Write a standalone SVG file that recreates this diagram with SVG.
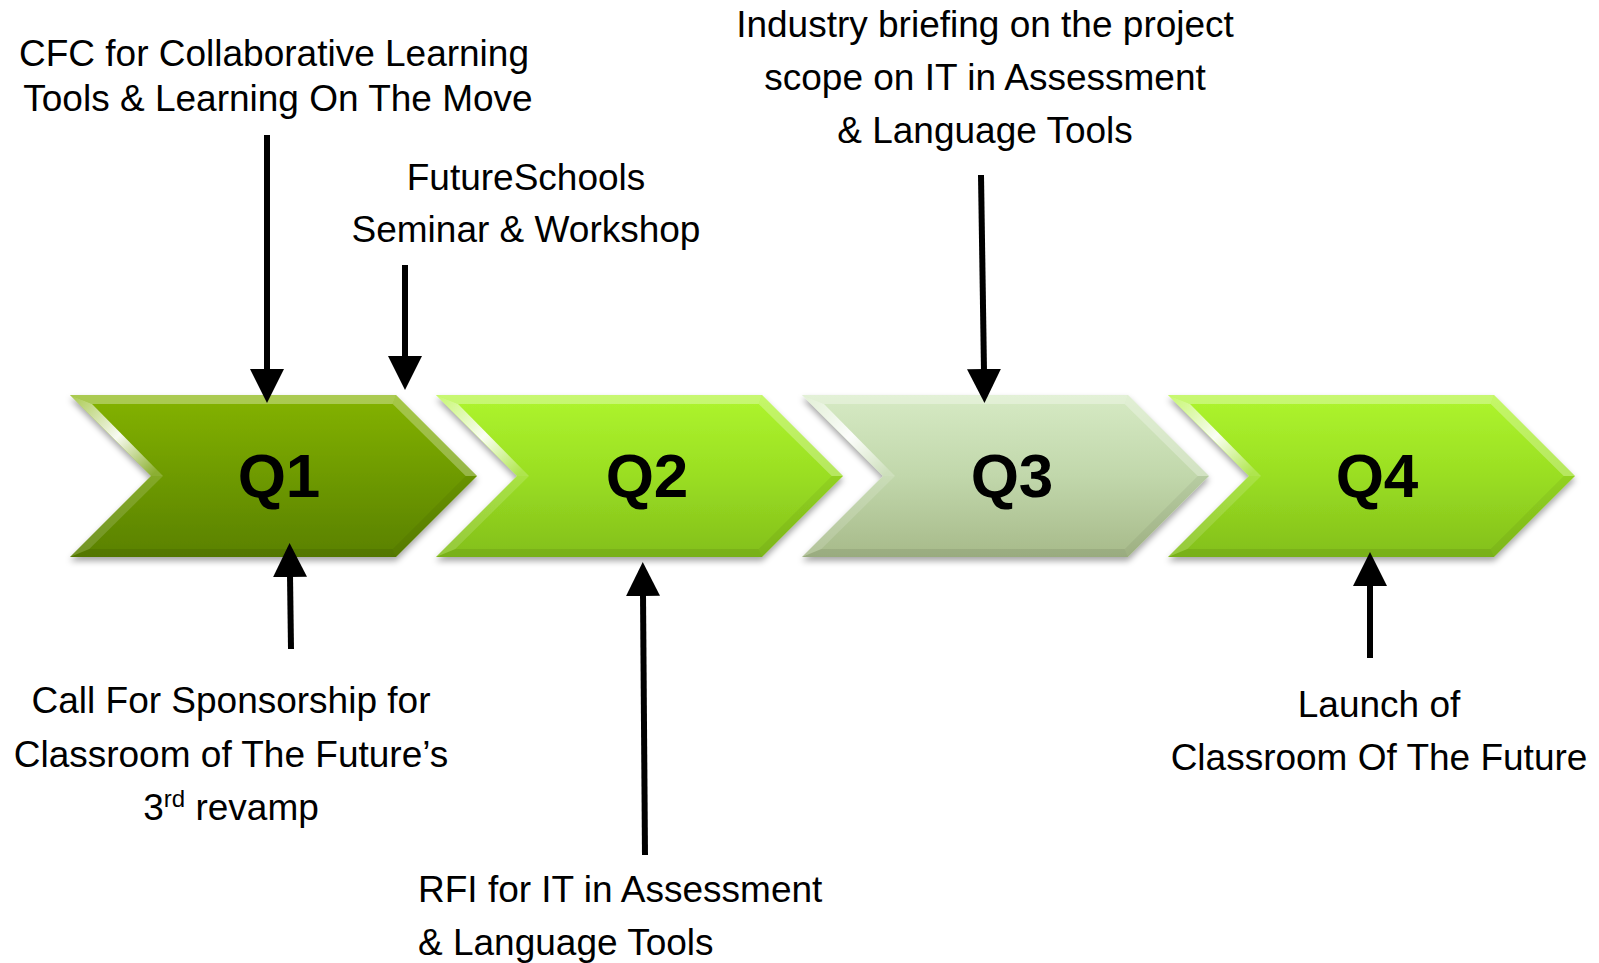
<svg xmlns="http://www.w3.org/2000/svg" xmlns:xlink="http://www.w3.org/1999/xlink" width="1599" height="963" viewBox="0 0 1599 963">
<style>
.lbl{font-family:"Liberation Sans",Arial,sans-serif;font-size:37px;fill:#000}
.q{font-family:"Liberation Sans",Arial,sans-serif;font-size:62px;font-weight:bold;fill:#000;text-anchor:middle}
.c{text-anchor:middle}
.arr{stroke:#000;stroke-width:6;fill:none;marker-end:url(#head)}
</style>
<defs>
<marker id="head" viewBox="0 0 34 34" refX="2" refY="17" markerWidth="34" markerHeight="34" markerUnits="userSpaceOnUse" orient="auto">
<path d="M0,0 L34,17 L0,34 z" fill="#000"/>
</marker>
<filter id="sh" x="-5%" y="-10%" width="110%" height="125%">
<feDropShadow dx="0" dy="4" stdDeviation="3" flood-color="#000" flood-opacity="0.35"/>
</filter>
<linearGradient id="g1" x1="0" y1="0" x2="0" y2="1">
<stop offset="0" stop-color="#84b306"/>
<stop offset="0.5" stop-color="#6e9a02"/>
<stop offset="1" stop-color="#5a8100"/>
</linearGradient>
<linearGradient id="g2" x1="0" y1="0" x2="0" y2="1">
<stop offset="0" stop-color="#aef52e"/>
<stop offset="0.5" stop-color="#9ade22"/>
<stop offset="1" stop-color="#83bf1c"/>
</linearGradient>
<linearGradient id="g3" x1="0" y1="0" x2="0" y2="1">
<stop offset="0" stop-color="#d6eac4"/>
<stop offset="0.5" stop-color="#c1d7ab"/>
<stop offset="1" stop-color="#a7ba8a"/>
</linearGradient>
<linearGradient id="hl" x1="0" y1="395" x2="81" y2="476" gradientUnits="userSpaceOnUse">
<stop offset="0" stop-color="#fff" stop-opacity="0.3"/>
<stop offset="0.55" stop-color="#fff" stop-opacity="0.95"/>
<stop offset="1" stop-color="#fff" stop-opacity="0.2"/>
</linearGradient>
<polygon id="chev" points="0,395 326,395 407,476 326,557 0,557 81,476"/>
<g id="bevel">
<polygon points="0,395 326,395 322.7,404 22,404" fill="#fff" fill-opacity="0.32"/>
<polygon points="81,476 0,395 22,404 93,476" fill="url(#hl)"/>
<polygon points="326,395 407,476 395.7,476 322.7,404" fill="#fff" fill-opacity="0.28"/>
<polygon points="407,476 326,557 322.7,549 395.7,476" fill="#000" fill-opacity="0.05"/>
<polygon points="326,557 0,557 19.3,549 322.7,549" fill="#000" fill-opacity="0.08"/>
<polygon points="0,557 81,476 93,476 19.3,549" fill="#fff" fill-opacity="0.15"/>
</g>
</defs>
<rect width="1599" height="963" fill="#fff"/>

<g id="q1" transform="translate(70,0)">
<use xlink:href="#chev" fill="url(#g1)" filter="url(#sh)"/>
<use xlink:href="#bevel"/>
<text class="q" x="209" y="497">Q1</text>
</g>
<g id="q2" transform="translate(436,0)">
<use xlink:href="#chev" fill="url(#g2)" filter="url(#sh)"/>
<use xlink:href="#bevel"/>
<text class="q" x="211" y="497">Q2</text>
</g>
<g id="q3" transform="translate(802,0)">
<use xlink:href="#chev" fill="url(#g3)" filter="url(#sh)"/>
<use xlink:href="#bevel"/>
<text class="q" x="210" y="497">Q3</text>
</g>
<g id="q4" transform="translate(1168,0)">
<use xlink:href="#chev" fill="url(#g2)" filter="url(#sh)"/>
<use xlink:href="#bevel"/>
<text class="q" x="209" y="497">Q4</text>
</g>

<g id="connectors">
<line class="arr" x1="267" y1="135" x2="267" y2="371"/>
<line class="arr" x1="405" y1="265" x2="405" y2="358"/>
<line class="arr" x1="981" y1="175" x2="984" y2="371"/>
<line class="arr" x1="291" y1="649" x2="290" y2="575"/>
<line class="arr" x1="645" y1="855" x2="643" y2="594"/>
<line class="arr" x1="1370" y1="658" x2="1370" y2="584"/>
</g>

<g id="t-cfc">
<text class="lbl c" x="274" y="66">CFC for Collaborative Learning</text>
<text class="lbl c" x="278" y="111">Tools &amp; Learning On The Move</text>
</g>
<g id="t-fs">
<text class="lbl c" x="526" y="190">FutureSchools</text>
<text class="lbl c" x="526" y="242">Seminar &amp; Workshop</text>
</g>
<g id="t-ind">
<text class="lbl c" x="985" y="37">Industry briefing on the project</text>
<text class="lbl c" x="985" y="90">scope on IT in Assessment</text>
<text class="lbl c" x="985" y="143">&amp; Language Tools</text>
</g>
<g id="t-call">
<text class="lbl c" x="231" y="713">Call For Sponsorship for</text>
<text class="lbl c" x="231" y="767">Classroom of The Future’s</text>
<text class="lbl c" x="231" y="820">3<tspan font-size="24" dy="-13">rd</tspan><tspan dy="13"> revamp</tspan></text>
</g>
<g id="t-rfi">
<text class="lbl" x="418" y="902">RFI for IT in Assessment</text>
<text class="lbl" x="418" y="955">&amp; Language Tools</text>
</g>
<g id="t-launch">
<text class="lbl c" x="1379" y="717">Launch of</text>
<text class="lbl c" x="1379" y="770">Classroom Of The Future</text>
</g>
</svg>
